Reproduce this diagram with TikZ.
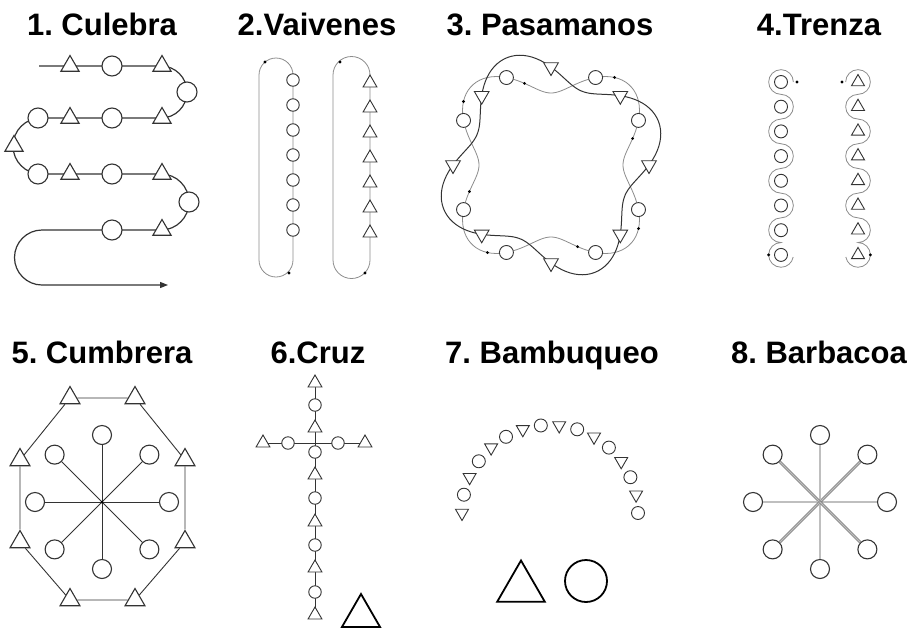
\documentclass[tikz,border=0pt]{standalone}
\usepackage{fontspec}
\setmainfont{Liberation Sans}
\usetikzlibrary{shapes.geometric,arrows.meta,positioning}
\colorlet{linie}{black!80}
\colorlet{grau}{black!45}
\frenchspacing

\begin{document}
\begin{tikzpicture}[
x=1pt,y=1pt,
Titel/.style={font=\bfseries\fontsize{31}{31}\selectfont,anchor=base,inner sep=0},
Kreis/.style={circle,draw=linie,fill=white,line width=1.1pt,inner sep=0,minimum size=#1},
Kreis/.default=20,
Dreieck/.style={regular polygon,regular polygon sides=3,draw=linie,fill=white,line width=1.1pt,inner sep=0,minimum size=#1},
Dreieck/.default=21,
Abajo/.style={shape border rotate=180},
Klein/.style={line width=0.9pt},
Gross/.style={draw=black,line width=1.8pt},
Weg/.style={draw=linie,line width=1.2pt},
Hilo/.style={draw=grau,line width=0.8pt},
Doble/.style={draw=black!55,double=black!25,double distance=1.2pt,line width=0.8pt}
]
%\draw[help lines,step=50] (0,-630) grid (913,0);
\useasboundingbox (0,-630) rectangle (913,0);

% titles
\node[Titel] (t1) at (102,-35) {1. Culebra};
\node[Titel] (t2) at (317,-35) {2.Vaivenes};
\node[Titel] (t3) at (550,-35) {3. Pasamanos};
\node[Titel] (t4) at (819,-35) {4.Trenza};
\node[Titel] (t5) at (102,-363) {5. Cumbrera};
\node[Titel] (t6) at (318,-363) {6.Cruz};
\node[Titel] (t7) at (552,-363) {7. Bambuqueo};
\node[Titel] (t8) at (819,-363) {8. Barbacoa};

% 1. Culebra
\coordinate (cuA) at (39,-66);
\coordinate (cuB) at (168,-285);
\draw[Weg,-{Triangle[length=8pt,width=6pt]}] (cuA) -- (161,-66)
  arc[start angle=90,end angle=-90,radius=26] -- (41,-118)
  arc[start angle=90,end angle=270,radius=28] -- (161,-174)
  arc[start angle=90,end angle=-90,radius=28] -- (42,-230)
  arc[start angle=90,end angle=270,radius=27.5] -- (cuB);
\foreach \x/\y [count=\i] in {112/66,187/92,38/118,112/118,38/174,112/174,189/202,112/230}
  \node[Kreis] (cuk\i) at (\x,-\y) {};
\foreach \x/\y [count=\i] in {70/66,162/66,70/118,162/118,14/146,70/174,162/174,162/230}
  \node[Dreieck] (cud\i) at (\x,-\y) {};

% 2. Vaivenes
\draw[Hilo] (259,-75) -- (259,-260) arc[start angle=180,end angle=360,radius=17]
  -- (293,-75) arc[start angle=0,end angle=180,radius=17];
\draw[Hilo] (333,-75) -- (333,-260) arc[start angle=180,end angle=360,radius=18.5]
  -- (370,-75) arc[start angle=0,end angle=180,radius=18.5];
\foreach \p in {(265,-62),(289,-273),(340,-62),(365,-273)}
  \fill \p circle[radius=1.6];
\foreach \k in {0,...,6}{
  \node[Kreis=12.5,Klein] (vk\k) at (293,-80-25*\k) {};
  \node[Dreieck=16,Klein] (vd\k) at (370,-83-25*\k) {};
}

% 3. Pasamanos
\begin{scope}[shift={(551,-165)}]
\draw[Hilo] plot[domain=0:360,samples=181,smooth] (\x:{92+20*cos(4*(\x-45))});
\draw[Weg,line width=1pt] plot[domain=0:360,samples=181,smooth] (\x:{98+18*cos(4*(\x-22.5))});
\foreach \a [count=\i] in {27,63,117,153,207,243,297,333}{
  \fill ({\a-9}:{92+20*cos(4*(\a-54))}) circle[radius=1.6];
  \node[Kreis=14,Klein] (pk\i) at (\a:{92+20*cos(4*(\a-45))}) {};
}
\foreach \a [count=\i] in {0,45,...,315}
  \node[Dreieck=17,Abajo,Klein] (pd\i) at (\a:{98+18*cos(4*(\a-22.5))}) {};
\end{scope}

% 4. Trenza
\draw[Hilo] (793.35,-82)
  arc[start angle=0,end angle=270,radius=12.35]
  arc[start angle=90,end angle=-90,radius=12.35]
  arc[start angle=90,end angle=270,radius=12.35]
  arc[start angle=90,end angle=-90,radius=12.35]
  arc[start angle=90,end angle=270,radius=12.35]
  arc[start angle=90,end angle=-90,radius=12.35]
  arc[start angle=90,end angle=270,radius=12.35]
  arc[start angle=90,end angle=350,radius=12.35];
\draw[Hilo] (845.65,-82)
  arc[start angle=180,end angle=-90,radius=12.35]
  arc[start angle=90,end angle=270,radius=12.35]
  arc[start angle=90,end angle=-90,radius=12.35]
  arc[start angle=90,end angle=270,radius=12.35]
  arc[start angle=90,end angle=-90,radius=12.35]
  arc[start angle=90,end angle=270,radius=12.35]
  arc[start angle=90,end angle=-90,radius=12.35]
  arc[start angle=90,end angle=-170,radius=12.35];
\foreach \p in {(797,-82),(768.65,-254.9),(842,-82),(870.35,-254.9)}
  \fill \p circle[radius=1.6];
\foreach \k in {0,...,7}{
  \node[Kreis=13,Klein] (tk\k) at (781,-82-24.7*\k) {};
  \node[Dreieck=15,Klein] (td\k) at (858,-82-24.7*\k) {};
}

% 5. Cumbrera
\begin{scope}[shift={(102,-502)}]
\coordinate (cm) at (0,0);
\foreach \a [count=\i] in {0,45,...,315}{
  \node[Kreis=19] (ck\i) at (\a:67) {};
  \draw[Weg,line width=0.9pt] (cm) -- (ck\i);
}
\fill (cm) circle[radius=1.5];
\end{scope}
\foreach \x/\y [count=\i] in {70/398,135/398,185/460,185/542,135/600,70/600,20/542,20/460}
  \node[Dreieck=23] (co\i) at (\x,-\y) {};
\draw[Weg,line width=0.9pt] (co1) -- (co2) -- (co3) -- (co4) -- (co5) -- (co6) -- (co7) -- (co8) -- (co1);

% 6. Cruz
\coordinate (kop) at (315,-383);
\coordinate (pie) at (315,-615);
\coordinate (izq) at (263,-443);
\coordinate (der) at (365,-443);
\draw[Weg,line width=0.9pt] (kop) -- (pie);
\draw[Weg,line width=0.9pt] (izq) -- (der);
\foreach \y [count=\i] in {405,452,498,545,592}
  \node[Kreis=12.5,Klein] (zk\i) at (315,-\y) {};
\foreach \y [count=\i] in {383,428,475,522,568,615}
  \node[Dreieck=16,Klein] (zd\i) at (315,-\y) {};
\node[Kreis=12.5,Klein] (zk6) at (288,-443) {};
\node[Kreis=12.5,Klein] (zk7) at (338,-443) {};
\node[Dreieck=16,Klein] (zd7) at (izq) {};
\node[Dreieck=16,Klein] (zd8) at (der) {};
\node[Dreieck=44,Gross] (zg) at (361,-616) {};

% 7. Bambuqueo
\begin{scope}[shift={(550,-513)}]
\foreach \i in {0,2,...,14}
  \node[Dreieck=15,Abajo,Klein] (bd\i) at ({180-12*\i}:88) {};
\foreach \i in {1,3,...,15}
  \node[Kreis=13,Klein] (bk\i) at ({180-12*\i}:88) {};
\end{scope}
\node[Dreieck=55,Gross] (bgd) at (521,-588) {};
\node[Kreis=42,Gross] (bgk) at (586,-581) {};

% 8. Barbacoa
\begin{scope}[shift={(820,-502)}]
\coordinate (bc) at (0,0);
\foreach \a [count=\i] in {0,45,...,315}{
  \node[Kreis=19] (ok\i) at (\a:67) {};
  \draw[Doble] (bc) -- (ok\i);
}
\end{scope}

\end{tikzpicture}
\end{document}
